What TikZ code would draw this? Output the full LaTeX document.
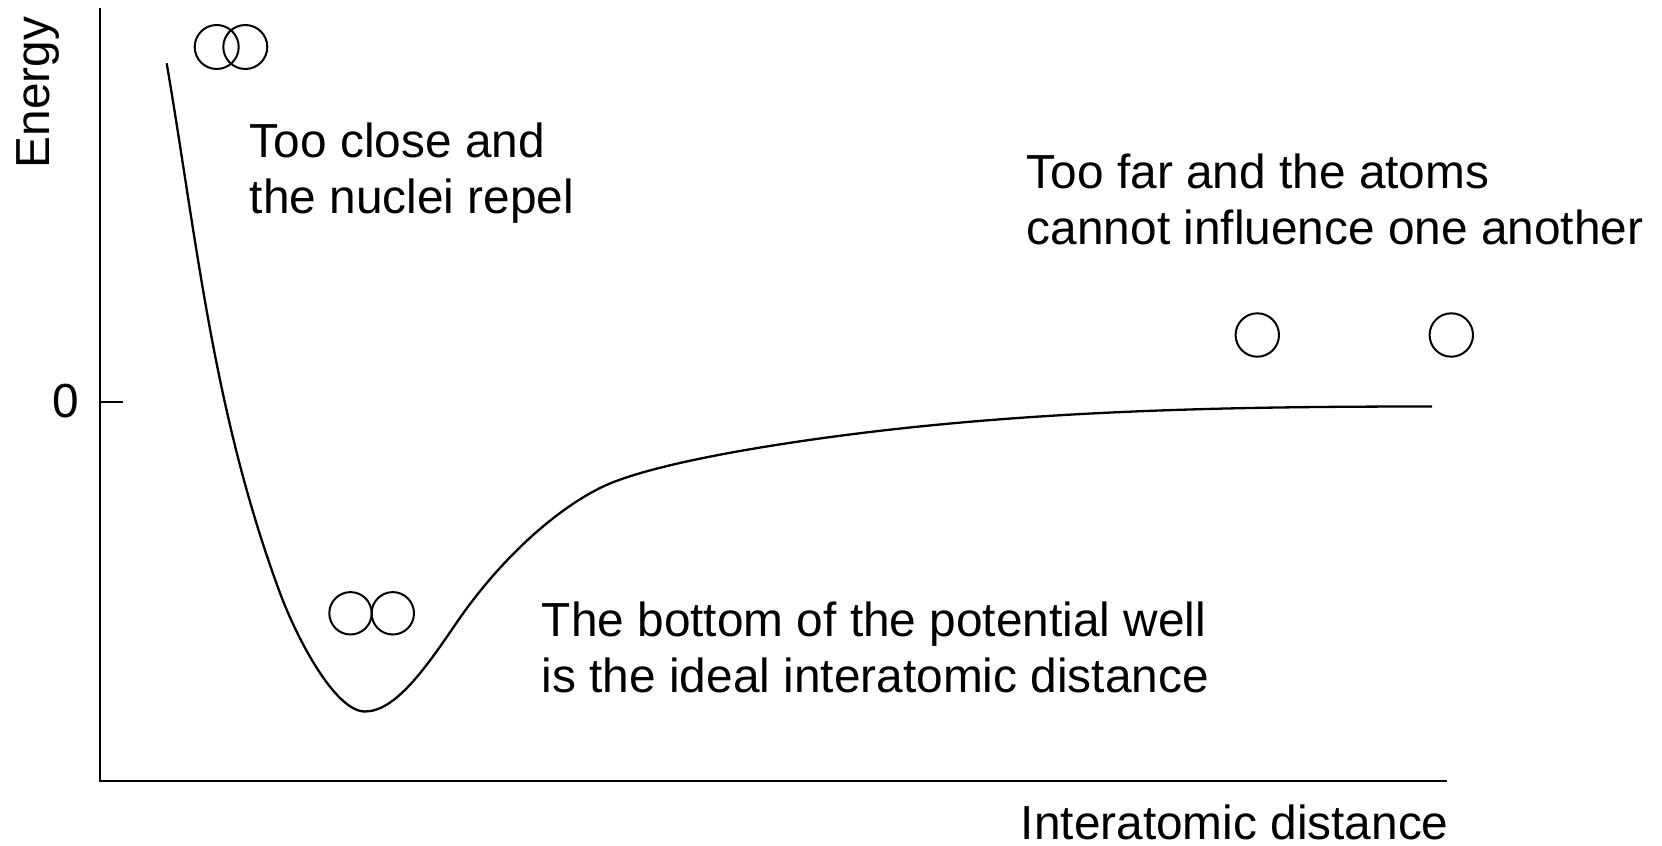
\documentclass[tikz,border=0pt]{standalone}
\usepackage{fontspec}
\setmainfont{Liberation Sans}
\begin{document}
\begin{tikzpicture}[x=0.5pt,y=-0.5pt,
  axis/.style={line width=1pt,line cap=rect},
  curveline/.style={line width=1.15pt},
  atom/.style={circle,draw,line width=1pt,minimum size=21.8pt,inner sep=0pt},
  lbl/.style={inner sep=0pt,font=\fontsize{23.9}{28}\selectfont},
  note/.style={lbl,align=left,anchor=base west}]
\useasboundingbox (0,0) rectangle (1662,846);
% axes
\coordinate (ytop) at (99.5,8.5);
\coordinate (origin) at (99.5,781);
\coordinate (xend) at (1446,781);
\coordinate (tick0) at (99.5,401.7);
\coordinate (tick0e) at (122,401.7);
\draw[axis] (ytop) -- (origin) -- (xend);
\draw[axis] (tick0) -- (tick0e);
\node[lbl,anchor=base east] (zero) at (79.5,417) {0};
\node[lbl,anchor=base,rotate=90] (energy) at (49,92.5) {Energy};
\node[lbl,anchor=base east] (xlabel) at (1449,839) {Interatomic distance};
% potential curve
\coordinate (p0) at (166.7,63.3);
\coordinate (p1) at (280,593);
\coordinate (p2) at (365,711.5);
\coordinate (p3) at (455,625);
\coordinate (p4) at (600,488);
\coordinate (p5) at (870,432);
\coordinate (p6) at (1432,406.5);
\draw[curveline] (p0)
  .. controls (197.3,243.3) and (213.4,413) .. (p1)
  .. controls (296.7,638) and (335,711.5) .. (p2)
  .. controls (395,711.5) and (425,669) .. (p3)
  .. controls (500,558.8) and (555,510.5) .. (p4)
  .. controls (650,463) and (780,442.8) .. (p5)
  .. controls (1060,409.2) and (1250,406.5) .. (p6);
% atoms
\node[atom,minimum size=22pt] (c1) at (216.7,47) {};
\node[atom,minimum size=22pt] (c2) at (245.3,47) {};
\node[atom,minimum size=21.2pt] (m1) at (350.5,613.3) {};
\node[atom,minimum size=21.2pt] (m2) at (392.8,613.3) {};
\node[atom,minimum size=21.7pt] (f1) at (1257.3,335) {};
\node[atom,minimum size=21.7pt] (f2) at (1451.3,335) {};
% notes
\node[note] (close) at (249.5,213.5) {Too close and\\the nuclei repel};
\node[note] (far) at (1026.5,244) {Too far and the atoms\\cannot influence one another};
\node[note] (bottom) at (541.5,692.5) {The bottom of the potential well\\is the ideal interatomic distance};
\end{tikzpicture}
\end{document}
